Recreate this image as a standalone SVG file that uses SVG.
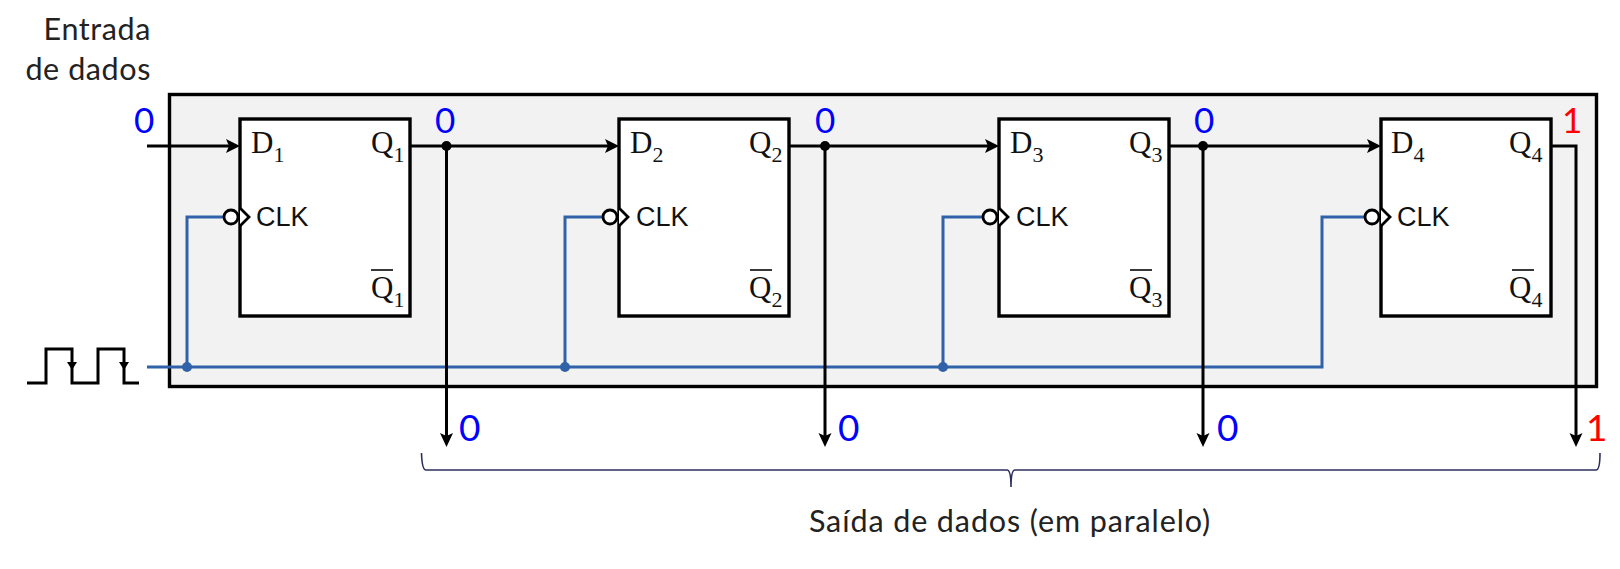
<svg xmlns="http://www.w3.org/2000/svg" width="1620" height="569" viewBox="0 0 1620 569">
<style>
.w{fill:none;stroke:#000;stroke-width:3}
.c{fill:none;stroke:#2f62a8;stroke-width:3}
.ff{fill:#fff;stroke:#000;stroke-width:3.4}
.s{font-family:"Liberation Serif",serif;fill:#111;font-size:31px}
.b{font-size:22px}
.k{font-family:"Liberation Sans",Arial,sans-serif;fill:#111;font-size:27px}
.l{font-family:Lato,"Open Sans",sans-serif;fill:#222;font-size:30.500px;letter-spacing:.6px}
.n{font-family:Lato,"Open Sans",sans-serif;font-size:35px}
.d{font-size:37px}
.z{fill:#00f}.o{fill:#f00}
.h{fill:#000;stroke:none}
.u{fill:#2f62a8}
</style>
<defs>
<g id="ffb">
<rect class="ff" width="170" height="197"/>
<path d="M0 89L9 98L0 107" fill="#fff" stroke="#000" stroke-width="2.8"/>
<circle cx="-9" cy="98" r="7" fill="#fff" stroke="#000" stroke-width="2.8"/>
<path d="M131 151H153" stroke="#222" stroke-width="1.8"/>
</g>
</defs>
<rect id="register" x="169.500" y="94.500" width="1427" height="292" fill="#f2f2f2" stroke="#000" stroke-width="3.4"/>
<g id="connectors">
<path class="c" d="M147 367H1322V217H1372"/>
<path class="c" d="M187 367V217H224M565 367V217H603M943 367V217H983"/>
<path class="w" d="M147 146H232M409 146H611M789 146H991M1170 146H1373M1551 146H1576V436"/>
<path class="w" d="M446.500 146V436M825 146V436M1203 146V436"/>
<path class="h" d="M240 146L226 139L229 146L226 153ZM619 146L605 139L608 146L605 153ZM999 146L985 139L988 146L985 153ZM1381 146L1367 139L1370 146L1367 153Z"/>
<path class="h" d="M446.500 447L440 433L446.500 436L453 433ZM825 447L818.500 433L825 436L831.500 433ZM1203 447L1196.500 433L1203 436L1209.500 433ZM1576 447L1569.500 433L1576 436L1582.500 433Z"/>
<circle class="h" cx="446.500" cy="146" r="5"/><circle class="h" cx="825" cy="146" r="5"/><circle class="h" cx="1203" cy="146" r="5"/>
<circle class="u" cx="187" cy="367" r="5"/><circle class="u" cx="565" cy="367" r="5"/><circle class="u" cx="943" cy="367" r="5"/>
<path d="M421.500 453Q422 470 426 470H1007Q1011 470 1011 487Q1011 470 1015 470H1596Q1600 470 1600 453" fill="none" stroke="#2b2f5c" stroke-width="1.6"/>
</g>
<g id="clock-signal">
<path class="w" d="M27 383H46V349H72V383H98V349H124V383H139"/>
<path class="h" d="M72 370L67 362H77ZM124 370L119 362H129Z"/>
</g>
<g id="ff1"><use href="#ffb" x="240" y="119"/>
<text class="s" x="251" y="153">D<tspan class="b" dy="9">1</tspan></text>
<text class="s" x="371" y="153">Q<tspan class="b" dy="9">1</tspan></text>
<text class="k" x="256" y="226">CLK</text>
<text class="s" x="371" y="298">Q<tspan class="b" dy="9">1</tspan></text></g>
<g id="ff2"><use href="#ffb" x="619" y="119"/>
<text class="s" x="630" y="153">D<tspan class="b" dy="9">2</tspan></text>
<text class="s" x="749" y="153">Q<tspan class="b" dy="9">2</tspan></text>
<text class="k" x="636" y="226">CLK</text>
<text class="s" x="749" y="298">Q<tspan class="b" dy="9">2</tspan></text></g>
<g id="ff3"><use href="#ffb" x="999" y="119"/>
<text class="s" x="1010" y="153">D<tspan class="b" dy="9">3</tspan></text>
<text class="s" x="1129" y="153">Q<tspan class="b" dy="9">3</tspan></text>
<text class="k" x="1016" y="226">CLK</text>
<text class="s" x="1129" y="298">Q<tspan class="b" dy="9">3</tspan></text></g>
<g id="ff4"><use href="#ffb" x="1381" y="119"/>
<text class="s" x="1391" y="153">D<tspan class="b" dy="9">4</tspan></text>
<text class="s" x="1509" y="153">Q<tspan class="b" dy="9">4</tspan></text>
<text class="k" x="1397" y="226">CLK</text>
<text class="s" x="1509" y="298">Q<tspan class="b" dy="9">4</tspan></text></g>
<g id="labels">
<text class="l" x="151" y="40" text-anchor="end">Entrada</text>
<text class="l" x="151" y="80" text-anchor="end">de dados</text>
<text class="l" x="1010" y="532" text-anchor="middle" style="font-size:30.500px;letter-spacing:.9px">Saída de dados (em paralelo)</text>
<text class="n z" x="134" y="133">0</text>
<text class="n z" x="435" y="133">0</text>
<text class="n z" x="815" y="133">0</text>
<text class="n z" x="1194" y="133">0</text>
<text class="n o" x="1562" y="133">1</text>
<text class="n z d" x="459" y="441">0</text>
<text class="n z d" x="838" y="441">0</text>
<text class="n z d" x="1217" y="441">0</text>
<text class="n o d" x="1586" y="441">1</text>
</g>
</svg>
